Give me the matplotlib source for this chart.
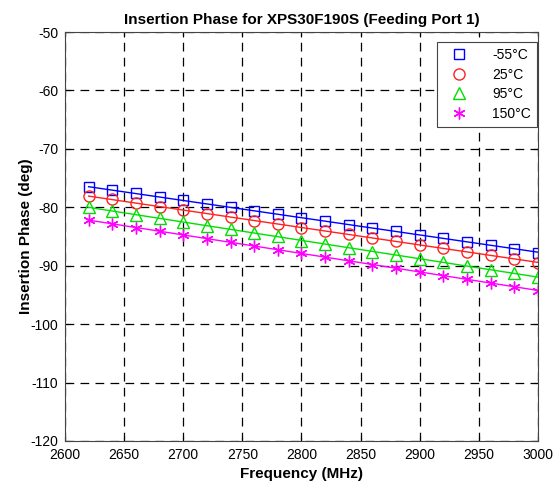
import matplotlib.pyplot as plt
import numpy as np

plt.rcParams['font.family'] = ['Liberation Sans', 'DejaVu Sans']
plt.rcParams['axes.unicode_minus'] = False

freq = np.arange(2620, 3001, 20)
phase_m55 = [-76.5, -77.1, -77.6, -78.3, -78.8, -79.4, -80.0, -80.6, -81.2, -81.8,
             -82.4, -83.0, -83.6, -84.1, -84.7, -85.3, -85.9, -86.4, -87.1, -87.8]
phase_25 = [-78.1, -78.6, -79.3, -79.9, -80.5, -81.1, -81.7, -82.3, -82.9, -83.5,
            -84.1, -84.6, -85.2, -85.8, -86.4, -87.0, -87.6, -88.2, -88.8, -89.6]
phase_95 = [-80.0, -80.6, -81.3, -81.9, -82.5, -83.2, -83.8, -84.4, -85.0, -85.7,
            -86.3, -86.9, -87.6, -88.2, -88.8, -89.4, -90.0, -90.7, -91.3, -92.0]
phase_150 = [-82.2, -82.8, -83.5, -84.1, -84.7, -85.4, -86.0, -86.6, -87.3, -87.9,
             -88.5, -89.2, -89.8, -90.4, -91.1, -91.7, -92.3, -92.9, -93.6, -94.3]
labels = ['-55°C', '25°C', '95°C', '150°C']

fig = plt.figure(figsize=(5.58, 4.97), dpi=100)
ax = fig.add_axes([0.1165, 0.1127, 0.8475, 0.8229])

series = [phase_m55, phase_25, phase_95, phase_150]
colors = ['#0000ff', '#ff2020', '#00e000', '#ff00ff']
markers = ['s', 'o', '^', (6, 2, 0)]
sizes = [6.5, 8, 8, 8.5]
for ys, c, m, s, lab in zip(series, colors, markers, sizes, labels):
    # fitted line plus measured points
    fit = np.polyfit(freq, ys, 1)
    ax.plot(freq, np.polyval(fit, freq), color=c, lw=1)
    ax.plot(freq, ys, linestyle='none', marker=m, mfc='none', mec=c,
            ms=s, mew=1, label=lab)

ax.set_xlim(2600, 3000)
ax.set_ylim(-120, -50)
ax.set_xticks(np.arange(2600, 3001, 50))
ax.set_yticks(np.arange(-120, -49, 10))
ax.grid(True, color='black', linestyle=(0, (7, 5)), lw=0.9)
ax.tick_params(direction='in', top=True, right=True, labelsize=10, pad=5)
for sp in ax.spines.values():
    sp.set_color('#444444')

ax.set_title('Insertion Phase for XPS30F190S (Feeding Port 1)', fontsize=11, fontweight='bold')
ax.set_xlabel('Frequency (MHz)', fontsize=11, fontweight='bold')
ax.set_ylabel('Insertion Phase (deg)', fontsize=11, fontweight='bold', labelpad=-2)

leg = ax.legend(loc='upper right', fontsize=10, fancybox=False, framealpha=1,
                edgecolor='#444444', handlelength=2.2, handletextpad=1.3,
                borderpad=0.45, labelspacing=0.4, borderaxespad=0,
                bbox_to_anchor=(0.998, 0.976))
leg.get_frame().set_linewidth(0.8)

plt.savefig('out.png', dpi=100)
